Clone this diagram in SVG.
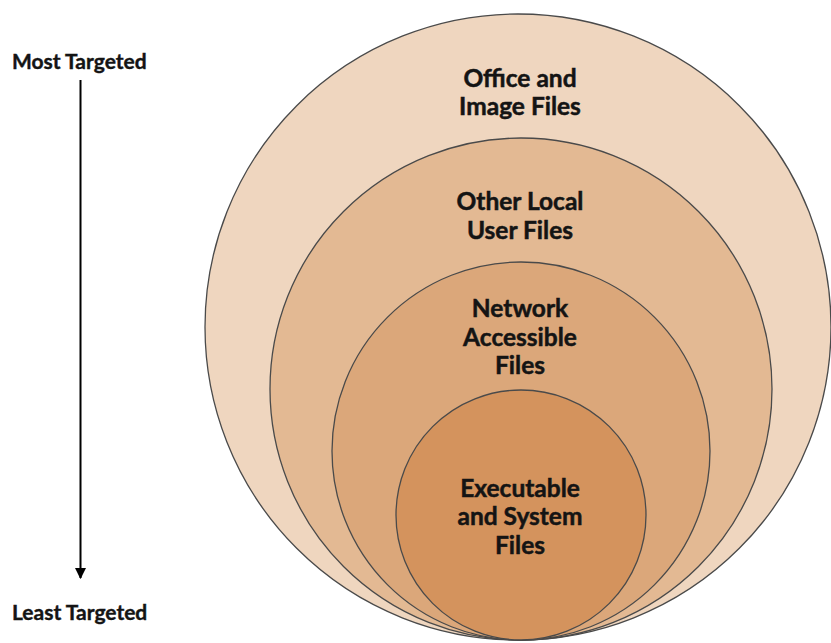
<svg xmlns="http://www.w3.org/2000/svg" width="831" height="643" viewBox="0 0 831 643">
  <defs>
    <style>
      .ring { stroke: #4a4a4a; stroke-width: 1.3; }
      .lbl { font-family: Lato, "Open Sans", "Liberation Sans", sans-serif; font-weight: bold; font-size: 24.5px; fill: #141414; stroke: #141414; stroke-width: 0.5; text-anchor: middle; }
      .axis { font-family: Lato, "Open Sans", "Liberation Sans", sans-serif; font-weight: bold; font-size: 21px; fill: #141414; stroke: #141414; stroke-width: 0.4; }
    </style>
    <marker id="arrow" viewBox="0 0 10 10" refX="9" refY="5" markerWidth="5.5" markerHeight="5.5" orient="auto" markerUnits="strokeWidth">
      <path d="M0,0 L10,5 L0,10 Z" fill="#000"/>
    </marker>
  </defs>
  <rect width="831" height="643" fill="#ffffff"/>
  <g id="node-office">
    <circle class="ring" cx="518" cy="327" r="313" fill="#efd6bf"/>
    <text class="lbl" x="520" y="87">Office and</text>
    <text class="lbl" x="520" y="115">Image Files</text>
  </g>
  <g id="node-local">
    <circle class="ring" cx="521" cy="389" r="251" fill="#e3b993"/>
    <text class="lbl" x="520" y="210">Other Local</text>
    <text class="lbl" x="520" y="239">User Files</text>
  </g>
  <g id="node-network">
    <circle class="ring" cx="521" cy="451" r="189" fill="#dba77a"/>
    <text class="lbl" x="520" y="317">Network</text>
    <text class="lbl" x="520" y="346">Accessible</text>
    <text class="lbl" x="520" y="374">Files</text>
  </g>
  <g id="node-exec">
    <circle class="ring" cx="521" cy="515" r="125" fill="#d4935d"/>
    <text class="lbl" x="520" y="497">Executable</text>
    <text class="lbl" x="520" y="525">and System</text>
    <text class="lbl" x="520" y="554">Files</text>
  </g>
  <g id="node-most">
    <text class="axis" x="12" y="69">Most Targeted</text>
  </g>
  <g id="node-least">
    <text class="axis" x="12" y="620">Least Targeted</text>
  </g>
  <g id="connectors">
    <line x1="80.5" y1="80" x2="80.5" y2="578" stroke="#000" stroke-width="2" marker-end="url(#arrow)"/>
  </g>
</svg>
